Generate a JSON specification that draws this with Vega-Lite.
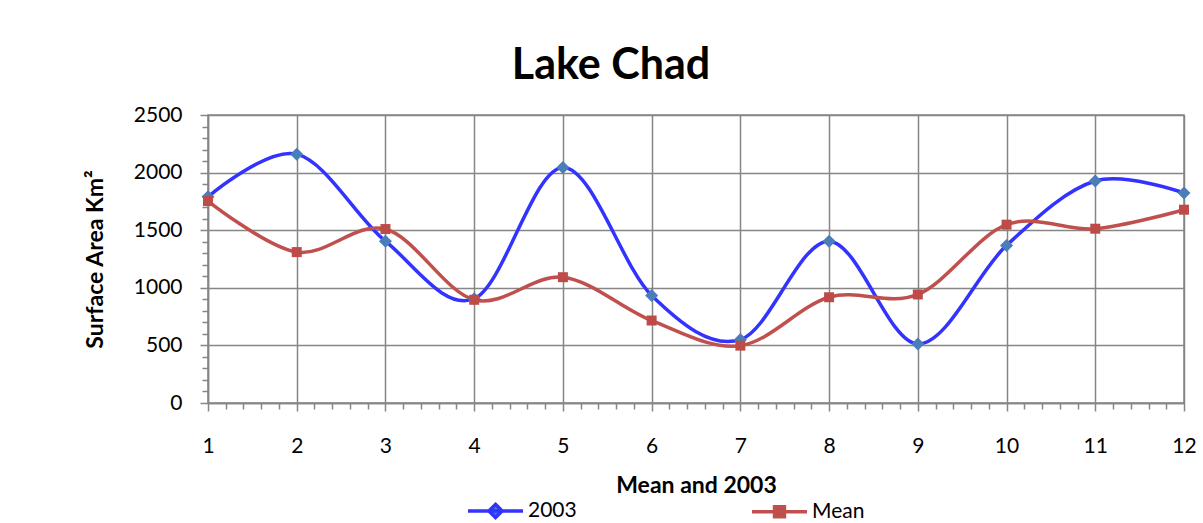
{
  "$schema": "https://vega.github.io/schema/vega-lite/v6.json",
  "width": 976,
  "height": 288,
  "autosize": {"type": "none"},
  "padding": {"left": 208, "top": 115, "right": 19, "bottom": 120},
  "background": "white",
  "title": {"text": "Lake Chad", "font": "Lato", "fontSize": 43, "fontWeight": "bold", "color": "black", "anchor": "middle", "dx": -85, "offset": 16},
  "config": {
    "view": {"stroke": "#868686", "strokeWidth": 1.5},
    "font": "Lato"
  },
  "data": {
    "values": [
      {"month": 1, "series": "2003", "area": 1790},
      {"month": 2, "series": "2003", "area": 2160},
      {"month": 3, "series": "2003", "area": 1405},
      {"month": 4, "series": "2003", "area": 905},
      {"month": 5, "series": "2003", "area": 2045},
      {"month": 6, "series": "2003", "area": 933},
      {"month": 7, "series": "2003", "area": 550},
      {"month": 8, "series": "2003", "area": 1405},
      {"month": 9, "series": "2003", "area": 513},
      {"month": 10, "series": "2003", "area": 1368},
      {"month": 11, "series": "2003", "area": 1927},
      {"month": 12, "series": "2003", "area": 1823},
      {"month": 1, "series": "Mean", "area": 1753},
      {"month": 2, "series": "Mean", "area": 1310},
      {"month": 3, "series": "Mean", "area": 1510},
      {"month": 4, "series": "Mean", "area": 896},
      {"month": 5, "series": "Mean", "area": 1092},
      {"month": 6, "series": "Mean", "area": 716},
      {"month": 7, "series": "Mean", "area": 498},
      {"month": 8, "series": "Mean", "area": 918},
      {"month": 9, "series": "Mean", "area": 942},
      {"month": 10, "series": "Mean", "area": 1548},
      {"month": 11, "series": "Mean", "area": 1513},
      {"month": 12, "series": "Mean", "area": 1678}
    ]
  },
  "encoding": {
    "x": {
      "field": "month", "type": "quantitative",
      "scale": {"domain": [1, 12], "nice": false, "zero": false},
      "axis": {
        "values": [1,1.2,1.4,1.6,1.8,2,2.2,2.4,2.6,2.8,3,3.2,3.4,3.6,3.8,4,4.2,4.4,4.6,4.8,5,5.2,5.4,5.6,5.8,6,6.2,6.4,6.6,6.8,7,7.2,7.4,7.6,7.8,8,8.2,8.4,8.6,8.8,9,9.2,9.4,9.6,9.8,10,10.2,10.4,10.6,10.8,11,11.2,11.4,11.6,11.8,12],
        "labelExpr": "abs(datum.value - round(datum.value)) < 0.01 ? toString(round(datum.value)) : ''",
        "labelOverlap": false,
        "labelFlush": false,
        "labelFontSize": 21,
        "labelColor": "black",
        "labelPadding": 24,
        "title": "Mean and 2003",
        "titleFontSize": 23,
        "titleFontWeight": "bold",
        "titleColor": "black",
        "titlePadding": 18,
        "grid": true,
        "gridColor": "#868686",
        "gridWidth": 1.5,
        "gridOpacity": {"condition": {"test": "abs(datum.value - round(datum.value)) < 0.01", "value": 1}, "value": 0},
        "tickColor": "#868686",
        "tickWidth": 1.5,
        "tickSize": {"condition": {"test": "abs(datum.value - round(datum.value)) < 0.01", "value": 8}, "value": 6},
        "domainColor": "#868686",
        "domainWidth": 1.5
      }
    },
    "y": {
      "field": "area", "type": "quantitative",
      "scale": {"domain": [0, 2500], "nice": false},
      "axis": {
        "values": [0,100,200,300,400,500,600,700,800,900,1000,1100,1200,1300,1400,1500,1600,1700,1800,1900,2000,2100,2200,2300,2400,2500],
        "labelExpr": "datum.value % 500 === 0 ? toString(datum.value) : ''",
        "labelOverlap": false,
        "labelFlush": false,
        "labelFontSize": 21,
        "labelColor": "black",
        "labelPadding": 18,
        "title": "Surface Area Km²",
        "titleFontSize": 23,
        "titleFontWeight": "bold",
        "titleColor": "black",
        "titlePadding": 26,
        "grid": true,
        "gridColor": "#868686",
        "gridWidth": 1.5,
        "gridOpacity": {"condition": {"test": "datum.value % 500 === 0", "value": 1}, "value": 0},
        "tickColor": "#868686",
        "tickWidth": 1.5,
        "tickSize": {"condition": {"test": "datum.value % 500 === 0", "value": 8}, "value": 6},
        "domainColor": "#868686",
        "domainWidth": 1.5
      }
    }
  },
  "layer": [
    {
      "mark": {"type": "line", "interpolate": "cardinal", "strokeWidth": 3.5},
      "encoding": {
        "color": {
          "field": "series", "type": "nominal",
          "scale": {"domain": ["2003", "Mean"], "range": ["#3333ff", "#c0504d"]},
          "legend": {
            "title": null,
            "orient": "none",
            "direction": "horizontal",
            "legendX": 258,
            "legendY": 366,
            "padding": 0,
            "symbolSize": 3025,
            "symbolStrokeWidth": 3.5,
            "labelFontSize": 21,
            "labelColor": "black",
            "labelOffset": 3,
            "columnPadding": 168,
            "encode": {
              "symbols": {
                "update": {
                  "shape": {"signal": "datum.value === '2003' ? 'M-1,0H1M0,-0.24L0.24,0L0,0.24L-0.24,0Z' : 'M-1,0H1M-0.18,-0.18H0.18V0.18H-0.18Z'"},
                  "fill": {"signal": "datum.value === '2003' ? '#4a7ebb' : '#be4b48'"},
                  "fillOpacity": {"value": 1},
                  "stroke": {"signal": "datum.value === '2003' ? '#3333ff' : '#c0504d'"},
                  "strokeWidth": {"value": 3.5},
                  "strokeOpacity": {"value": 1}
                }
              }
            }
          }
        }
      }
    },
    {
      "transform": [{"filter": "datum.series === '2003'"}],
      "mark": {"type": "point", "filled": true, "opacity": 1, "shape": "diamond", "size": 170, "color": "#4a7ebb"}
    },
    {
      "transform": [{"filter": "datum.series === 'Mean'"}],
      "mark": {"type": "point", "filled": true, "opacity": 1, "shape": "square", "size": 100, "color": "#be4b48"}
    }
  ]
}
